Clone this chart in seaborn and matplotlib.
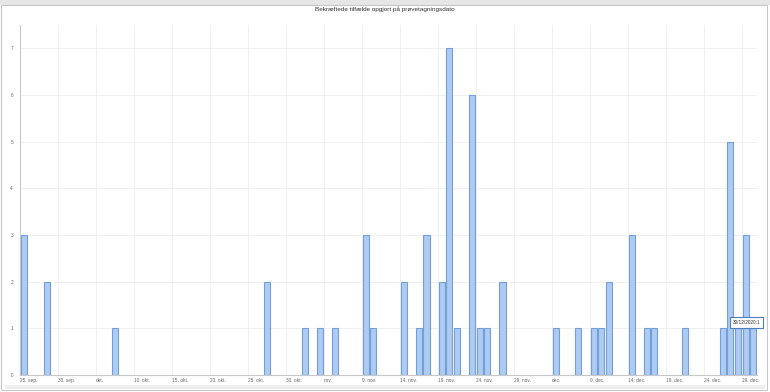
import matplotlib
matplotlib.use("Agg")
import matplotlib.pyplot as plt
import matplotlib.dates as mdates
import matplotlib.patches as mpatches
import pandas as pd
import seaborn as sns

# Bekræftede tilfælde pr. prøvetagningsdato
datoer = ["2020-09-25", "2020-09-28", "2020-10-07", "2020-10-27", "2020-11-01",
          "2020-11-03", "2020-11-05", "2020-11-09", "2020-11-10", "2020-11-14",
          "2020-11-16", "2020-11-17", "2020-11-19", "2020-11-20", "2020-11-21",
          "2020-11-23", "2020-11-24", "2020-11-25", "2020-11-27", "2020-12-04",
          "2020-12-07", "2020-12-09", "2020-12-10", "2020-12-11", "2020-12-14",
          "2020-12-16", "2020-12-17", "2020-12-21", "2020-12-26", "2020-12-27",
          "2020-12-28", "2020-12-29", "2020-12-30"]
tilfaelde = [3, 2, 1, 2, 1,
             1, 1, 3, 1, 2,
             1, 3, 2, 7, 1,
             6, 1, 1, 2, 1,
             1, 1, 1, 2, 3,
             1, 1, 1, 1, 5,
             1, 3, 1]

akse_start = "2020-09-25"
akse_slut = "2020-12-31"
tick_tekster = ["25. sep.", "30. sep.", "okt.", "10. okt.", "15. okt.", "20. okt.",
                "25. okt.", "30. okt.", "nov.", "9. nov.", "14. nov.", "19. nov.",
                "24. nov.", "29. nov.", "dec.", "9. dec.", "14. dec.", "19. dec.",
                "24. dec.", "29. dec."]
y_ticks = [0, 1, 2, 3, 4, 5, 6, 7]
titel = "Bekræftede tilfælde opgjort på prøvetagningsdato"
tooltip = "30/12/2020:1"

sns.set_style("white")
plt.rcParams["font.family"] = ["Liberation Sans", "DejaVu Sans"]

df = pd.DataFrame({
    "dato": mdates.date2num(pd.to_datetime(datoer).to_pydatetime()),
    "antal": tilfaelde,
})
start = mdates.date2num(pd.Timestamp(akse_start).to_pydatetime())
slut = mdates.date2num(pd.Timestamp(akse_slut).to_pydatetime())
tick_pos = mdates.date2num(pd.date_range(akse_start, periods=len(tick_tekster), freq="5D").to_pydatetime())

fig = plt.figure(figsize=(7.7, 3.92), dpi=100)
ax = fig.add_axes([20 / 770, 17 / 392, 737 / 770, 350 / 392])

sns.histplot(data=df, x="dato", weights="antal", binwidth=1, binrange=(start, slut),
             shrink=0.8, color="#aecbf1", edgecolor="#72a0dc", linewidth=0.8,
             alpha=1, ax=ax)

# skjul tomme søjler (højde 0)
for p in ax.patches:
    if p.get_height() == 0:
        p.set_visible(False)

ax.set_xlim(start, slut)
ax.set_ylim(0, 7.5)
ax.set_yticks(y_ticks)
ax.set_xticks(tick_pos)
ax.set_xticklabels(tick_tekster, ha="left")
ax.set_xlabel("")
ax.set_ylabel("")

ax.grid(True, color="#eeeeee", linewidth=0.6)
ax.set_axisbelow(True)
for side in ["top", "right"]:
    ax.spines[side].set_visible(False)
for side in ["left", "bottom"]:
    ax.spines[side].set_color("#c8c8c8")
    ax.spines[side].set_linewidth(0.8)
ax.tick_params(axis="both", length=0, labelsize=3.4, labelcolor="#666666")
ax.tick_params(axis="y", pad=5)
ax.tick_params(axis="x", pad=2.5)

# tooltip ved sidste søjle
ax.annotate(tooltip, xy=(slut - 0.5, 1), xytext=(-7, 6), textcoords="offset pixels",
            ha="center", va="center", fontsize=3.4, color="#333333",
            bbox=dict(boxstyle="square,pad=0.6", fc="white", ec="#4a7fc1", lw=0.8))

# titel og ramme
fig.text(0.5, 1 - 9 / 392, titel, ha="center", va="center", fontsize=4.6, color="#333333")
fig.patches.append(mpatches.Rectangle((0, 387 / 392), 1, 5 / 392, transform=fig.transFigure,
                                      facecolor="#e6e6e6", edgecolor="none"))
fig.patches.append(mpatches.Rectangle((1 / 770, 2 / 392), 766 / 770, 385 / 392,
                                      transform=fig.transFigure, fill=False,
                                      edgecolor="#c8c8c8", linewidth=0.8))
fig.patches.append(mpatches.Rectangle((5 / 770, 3 / 392), 760 / 770, 4 / 392,
                                      transform=fig.transFigure,
                                      facecolor="#eeeeee", edgecolor="none"))

fig.savefig("out.png", dpi=100)
